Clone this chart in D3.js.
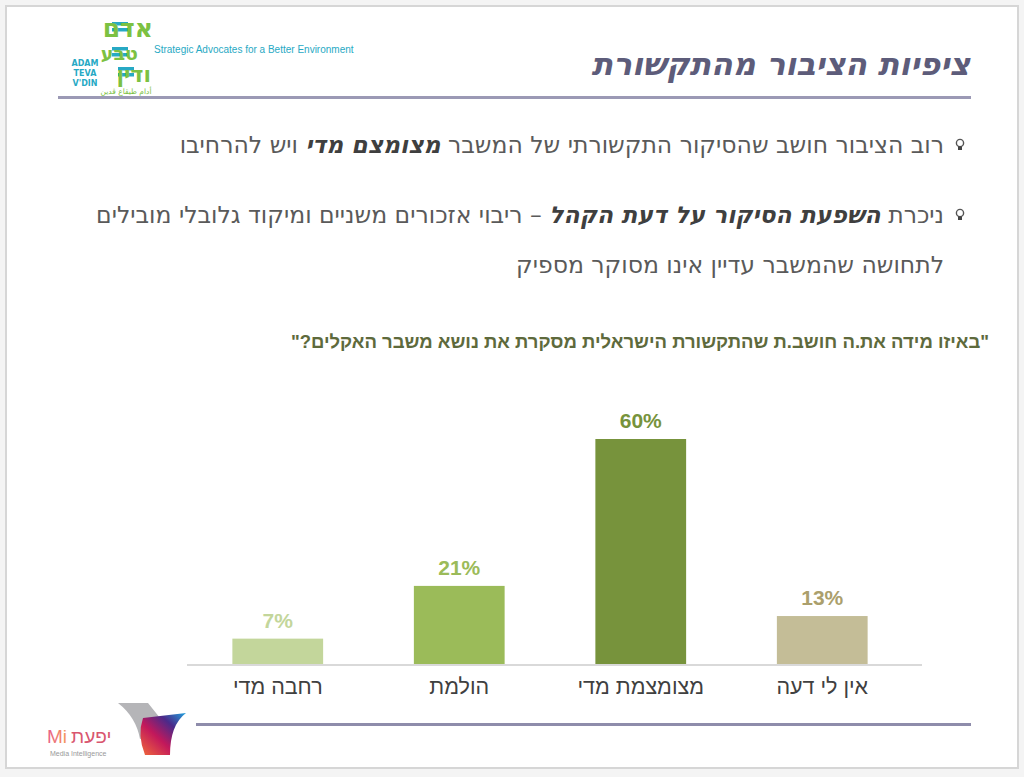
<!DOCTYPE html>
<html>
<head>
<meta charset="utf-8">
<script src="https://cdn.jsdelivr.net/npm/d3@7"></script>
<style>
    body { margin: 0; background: #f4f4f4; }
    svg { display: block; }
</style>
</head>
<body>
<div id="chart"></div>
<script>
// Chart data (left to right as drawn)
const categories = ["רחבה מדי", "הולמת", "מצומצמת מדי", "אין לי דעה"]
const values = [7, 21, 60, 13]
const barColors = ["#c3d69b", "#9bbb59", "#77933c", "#c4bd97"]
const labelColors = ["#c3d69b", "#9bbb59", "#77933c", "#ab9f6c"]

// Slide texts
const title = "ציפיות הציבור מהתקשורת"
const question = "\"באיזו מידה את.ה חושב.ת שהתקשורת הישראלית מסקרת את נושא משבר האקלים?\""
const bullets = [
    [["רוב הציבור חושב שהסיקור התקשורתי של המשבר ", false], ["מצומצם מדי", true], [" ויש להרחיבו", false]],
    [["ניכרת ", false], ["השפעת הסיקור על דעת הקהל", true], [" – ריבוי אזכורים משניים ומיקוד גלובלי מובילים", false]],
    [["לתחושה שהמשבר עדיין אינו מסוקר מספיק", false]]
]

const W = 1024, H = 777
const svg = d3.select("#chart").append("svg").attr("width", W).attr("height", H)

// Slide frame
svg.append("rect")
    .attr("x", 6).attr("y", 6).attr("width", 1012).attr("height", 762)
    .attr("fill", "#ffffff").attr("stroke", "#d6d6d6").attr("stroke-width", 2)

drawHeader()
drawBullets()
drawBars()
drawFooter()

function drawHeader() {
    // Title, right aligned
    svg.append("text")
        .attr("x", 970).attr("y", 75)
        .attr("direction", "rtl").attr("text-anchor", "start")
        .style("font-family", "'DejaVu Sans', sans-serif")
        .style("font-size", "31.5px").style("font-weight", "bold").style("font-style", "italic")
        .style("fill", "#5d5c7a")
        .text(title)

    // Rule under the title
    svg.append("line")
        .attr("x1", 58).attr("x2", 971).attr("y1", 97.5).attr("y2", 97.5)
        .attr("stroke", "#9b99b5").attr("stroke-width", 3)

    // Adam Teva V'Din logo (rough)
    const logo = svg.append("g").style("font-family", "'DejaVu Sans', sans-serif")
    const green = "#7cc142", teal = "#27a9c4"
    // teal stripes behind the letters
    const stripes = [[112, 22], [112, 28], [112, 47], [112, 53], [118, 67], [118, 73]]
    stripes.forEach(s => logo.append("rect").attr("x", s[0]).attr("y", s[1])
        .attr("width", 16).attr("height", 3.5).attr("fill", teal))
    logo.append("text").attr("x", 153).attr("y", 37).attr("text-anchor", "end")
        .style("font-size", "25px").style("font-weight", "bold").style("fill", green).text("אדם")
    logo.append("text").attr("x", 138).attr("y", 60).attr("text-anchor", "end")
        .style("font-size", "19px").style("font-weight", "bold").style("fill", green).text("טבע")
    logo.append("text").attr("x", 151).attr("y", 82).attr("text-anchor", "end")
        .style("font-size", "22px").style("font-weight", "bold").style("fill", green).text("ודין")
    ;["ADAM", "TEVA", "V'DIN"].forEach((t, i) => logo.append("text")
        .attr("x", 85).attr("y", 66 + i * 10).attr("text-anchor", "middle")
        .style("font-size", "8px").style("font-weight", "bold").style("fill", teal).text(t))
    logo.append("text").attr("x", 126).attr("y", 94).attr("text-anchor", "middle")
        .style("font-size", "7.5px").style("fill", green).text("أدام طيڤاع ڤدين")
    logo.append("text").attr("x", 154).attr("y", 53)
        .style("font-family", "'Liberation Sans Narrow', 'Liberation Sans', sans-serif")
        .style("font-size", "10px").style("fill", teal)
        .text("Strategic Advocates for a Better Environment")
}

function drawBullets() {
    const lineY = [153, 223, 273]
    bullets.forEach((parts, i) => {
        const t = svg.append("text")
            .attr("x", 944).attr("y", lineY[i])
            .attr("direction", "rtl").attr("text-anchor", "start")
            .style("font-family", "'DejaVu Sans', sans-serif")
            .style("font-size", "23.5px")
            .style("fill", "#5a5a5a")
        parts.forEach(p => {
            t.append("tspan")
                .style("font-weight", p[1] ? "bold" : "normal")
                .style("font-style", p[1] ? "italic" : "normal")
                .style("fill", p[1] ? "#3f3f3f" : "#5a5a5a")
                .text(p[0])
        })
        // little light-bulb bullet on lines that start an item
        if (i < 2) {
            const b = svg.append("g").attr("transform", `translate(960,${lineY[i] - 10})`)
            b.append("circle").attr("r", 3.6).attr("fill", "none").attr("stroke", "#555").attr("stroke-width", 1.4)
            b.append("rect").attr("x", -2).attr("y", 3.5).attr("width", 4).attr("height", 3.5).attr("fill", "#444")
        }
    })

    svg.append("text")
        .attr("x", 640).attr("y", 348)
        .attr("direction", "rtl").attr("text-anchor", "middle")
        .style("font-family", "'Liberation Sans', sans-serif")
        .style("font-size", "18.5px").style("font-weight", "bold")
        .style("fill", "#5e6a3c")
        .text(question)
}

function drawBars() {
    const baseY = 665, topY = 439
    const x = d3.scaleBand()
        .domain(categories)
        .range([187, 913])
        .paddingInner(0.5)
        .paddingOuter(0.25)
    const y = d3.scaleLinear()
        .domain([0, d3.max(values)])
        .range([baseY, topY])

    const data = categories.map((c, i) => ({ cat: c, value: values[i], i: i }))

    svg.append("g").selectAll("rect")
        .data(data)
        .enter()
        .append("rect")
            .attr("x", d => x(d.cat))
            .attr("y", d => y(d.value))
            .attr("width", x.bandwidth())
            .attr("height", d => baseY - y(d.value))
            .attr("fill", d => barColors[d.i])

    // Baseline axis (no ticks)
    const axis = svg.append("g")
        .attr("transform", `translate(0,${baseY})`)
        .call(d3.axisBottom(x).tickSize(0).tickPadding(14))
    axis.select(".domain").attr("stroke", "#d9d9d9").attr("stroke-width", 2)
        .attr("d", "M187,0H922")
    axis.selectAll("text")
        .attr("direction", "rtl")
        .style("font-family", "'Liberation Sans', sans-serif")
        .style("font-size", "21.5px")
        .style("fill", "#404040")

    // Value labels
    svg.append("g").selectAll("text")
        .data(data)
        .enter()
        .append("text")
            .attr("x", d => x(d.cat) + x.bandwidth() / 2)
            .attr("y", d => y(d.value) - 11)
            .attr("text-anchor", "middle")
            .style("font-family", "'Liberation Sans', sans-serif")
            .style("font-size", "21px").style("font-weight", "bold")
            .style("fill", d => labelColors[d.i])
            .text(d => d.value + "%")
}

function drawFooter() {
    svg.append("line")
        .attr("x1", 196).attr("x2", 971).attr("y1", 724.5).attr("y2", 724.5)
        .attr("stroke", "#8e8cab").attr("stroke-width", 3)

    // Yifat logo (rough)
    const defs = svg.append("defs")
    const grad = defs.append("linearGradient").attr("id", "yg")
        .attr("x1", "0").attr("y1", "1").attr("x2", "1").attr("y2", "0")
    grad.append("stop").attr("offset", "0").attr("stop-color", "#f26b3a")
    grad.append("stop").attr("offset", "0.4").attr("stop-color", "#c2185b")
    grad.append("stop").attr("offset", "0.7").attr("stop-color", "#4a2a8a")
    grad.append("stop").attr("offset", "1").attr("stop-color", "#1fa3e0")
    const mg = defs.append("linearGradient").attr("id", "mg")
    mg.append("stop").attr("offset", "0").attr("stop-color", "#e85d8a")
    mg.append("stop").attr("offset", "1").attr("stop-color", "#f59a5b")

    svg.append("path")
        .attr("d", "M118,703 L148,703 L160,718 L145,738 L140,739 Q136,717 118,703 Z")
        .attr("fill", "#b5b5b8")
    svg.append("path")
        .attr("d", "M143,718 L186,713 Q170,725 170,755 L145,755 Q137,735 143,718 Z")
        .attr("fill", "url(#yg)")
    svg.append("text").attr("x", 47).attr("y", 743)
        .style("font-family", "'Liberation Sans', sans-serif").style("font-size", "19px")
        .style("fill", "url(#mg)").text("Mi")
    svg.append("text").attr("x", 71).attr("y", 743)
        .style("font-family", "'Liberation Sans', sans-serif").style("font-size", "19px")
        .style("fill", "#d9566f").text("יפעת")
    svg.append("text").attr("x", 50).attr("y", 756)
        .style("font-family", "'Liberation Sans', sans-serif").style("font-size", "7px")
        .style("fill", "#999").text("Media Intelligence")
}
</script>
</body>
</html>
